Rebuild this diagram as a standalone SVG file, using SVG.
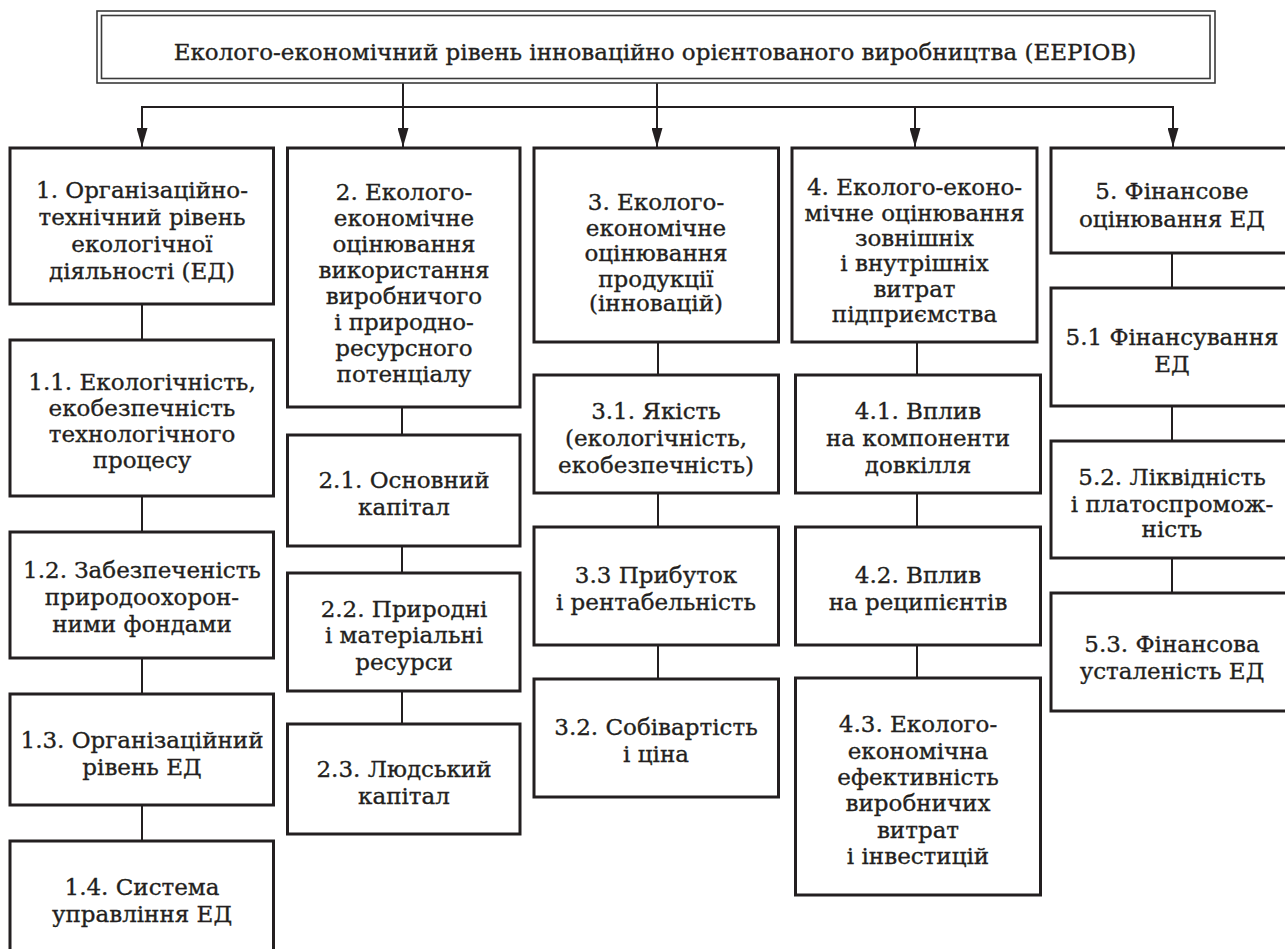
<svg xmlns="http://www.w3.org/2000/svg" width="1285" height="949" viewBox="0 0 1285 949">
<defs>
<style>
.bx{fill:#fff;stroke:#231f20;stroke-width:3}
.tb{fill:none;stroke:#3a3a3a;stroke-width:1.6}
.ln{fill:none;stroke:#231f20;stroke-width:2}
text{font-family:"DejaVu Serif","Liberation Serif",serif;font-size:23px;fill:#231f20;stroke:#231f20;stroke-width:0.35;text-anchor:middle}
</style>
<marker id="ah" markerUnits="userSpaceOnUse" markerWidth="19" markerHeight="11" refX="19" refY="5.5" orient="auto" viewBox="0 0 19 11">
<path d="M0,0 L19,5.5 L0,11 Z" fill="#231f20"/>
</marker>
</defs>
<rect width="1285" height="949" fill="#fff"/>
<g id="connectors">
<path class="ln" d="M403,83 V107"/>
<path class="ln" d="M657,83 V107"/>
<path class="ln" d="M141,107 H1174"/>
<path class="ln" d="M142,107 V147" marker-end="url(#ah)"/>
<path class="ln" d="M403,107 V147" marker-end="url(#ah)"/>
<path class="ln" d="M657,107 V147" marker-end="url(#ah)"/>
<path class="ln" d="M915,107 V147" marker-end="url(#ah)"/>
<path class="ln" d="M1173,107 V147" marker-end="url(#ah)"/>
<path class="ln" d="M142,304 V340 M142,496 V532 M142,658 V694 M142,805 V841"/>
<path class="ln" d="M402,407 V435 M402,546 V573 M402,691 V724"/>
<path class="ln" d="M658,342 V375 M658,493 V527 M658,645 V679"/>
<path class="ln" d="M917,342 V375 M917,493 V527 M917,645 V678"/>
<path class="ln" d="M1172,253 V288 M1172,406 V441 M1172,558 V593"/>
</g>
<g id="title">
<rect class="tb" x="97" y="11" width="1118" height="72"/>
<rect class="tb" x="101.5" y="15.5" width="1108.5" height="63"/>
<text x="655" y="60">Еколого-економічний рівень інноваційно орієнтованого виробництва (ЕЕРІОВ)</text>
</g>
<g id="n1">
<rect class="bx" x="10" y="148" width="263.5" height="156"/>
<text x="142" y="198">1. Організаційно-</text>
<text x="142" y="225">технічний рівень</text>
<text x="142" y="252">екологічної</text>
<text x="142" y="279">діяльності (ЕД)</text>
</g>
<g id="n1_1">
<rect class="bx" x="10" y="340" width="263.5" height="156"/>
<text x="142" y="390">1.1. Екологічність,</text>
<text x="142" y="416">екобезпечність</text>
<text x="142" y="442">технологічного</text>
<text x="142" y="468">процесу</text>
</g>
<g id="n1_2">
<rect class="bx" x="10" y="532" width="263.5" height="126"/>
<text x="142" y="578">1.2. Забезпеченість</text>
<text x="142" y="605">природоохорон-</text>
<text x="142" y="632">ними фондами</text>
</g>
<g id="n1_3">
<rect class="bx" x="10" y="694" width="263.5" height="111"/>
<text x="142" y="748">1.3. Організаційний</text>
<text x="142" y="775">рівень ЕД</text>
</g>
<g id="n1_4">
<rect class="bx" x="10" y="841" width="263.5" height="120"/>
<text x="142" y="895">1.4. Система</text>
<text x="142" y="922">управління ЕД</text>
</g>
<g id="n2">
<rect class="bx" x="287.5" y="148" width="232.5" height="259"/>
<text x="404" y="200">2. Еколого-</text>
<text x="404" y="226">економічне</text>
<text x="404" y="252">оцінювання</text>
<text x="404" y="278">використання</text>
<text x="404" y="304">виробничого</text>
<text x="404" y="329.5">і природно-</text>
<text x="404" y="355.5">ресурсного</text>
<text x="404" y="381.5">потенціалу</text>
</g>
<g id="n2_1">
<rect class="bx" x="287.5" y="435" width="232.5" height="111"/>
<text x="404" y="488">2.1. Основний</text>
<text x="404" y="515">капітал</text>
</g>
<g id="n2_2">
<rect class="bx" x="287.5" y="573" width="232.5" height="118"/>
<text x="404" y="616.5">2.2. Природні</text>
<text x="404" y="643">і матеріальні</text>
<text x="404" y="670">ресурси</text>
</g>
<g id="n2_3">
<rect class="bx" x="287.5" y="724" width="232.5" height="110"/>
<text x="404" y="777">2.3. Людський</text>
<text x="404" y="803.5">капітал</text>
</g>
<g id="n3">
<rect class="bx" x="534" y="148" width="244.5" height="194"/>
<text x="656" y="210">3. Еколого-</text>
<text x="656" y="235.5">економічне</text>
<text x="656" y="261">оцінювання</text>
<text x="656" y="286.5">продукції</text>
<text x="656" y="311">(інновацій)</text>
</g>
<g id="n3_1">
<rect class="bx" x="534" y="375" width="244.5" height="118"/>
<text x="656" y="419">3.1. Якість</text>
<text x="656" y="446">(екологічність,</text>
<text x="656" y="473">екобезпечність)</text>
</g>
<g id="n3_3">
<rect class="bx" x="534" y="527" width="244.5" height="118"/>
<text x="656" y="583">3.3 Прибуток</text>
<text x="656" y="610">і рентабельність</text>
</g>
<g id="n3_2">
<rect class="bx" x="534" y="679" width="244.5" height="118"/>
<text x="656" y="735">3.2. Собівартість</text>
<text x="656" y="762">і ціна</text>
</g>
<g id="n4">
<rect class="bx" x="792" y="148" width="245" height="194"/>
<text x="914.5" y="195">4. Еколого-еконо-</text>
<text x="914.5" y="220.5">мічне оцінювання</text>
<text x="914.5" y="246">зовнішніх</text>
<text x="914.5" y="271">і внутрішніх</text>
<text x="914.5" y="296.5">витрат</text>
<text x="914.5" y="322">підприємства</text>
</g>
<g id="n4_1">
<rect class="bx" x="795.5" y="375" width="245" height="118"/>
<text x="918" y="419">4.1. Вплив</text>
<text x="918" y="446">на компоненти</text>
<text x="918" y="473">довкілля</text>
</g>
<g id="n4_2">
<rect class="bx" x="795.5" y="527" width="245" height="118"/>
<text x="918" y="583">4.2. Вплив</text>
<text x="918" y="610">на реципієнтів</text>
</g>
<g id="n4_3">
<rect class="bx" x="795.5" y="678" width="245" height="217"/>
<text x="918" y="732">4.3. Еколого-</text>
<text x="918" y="758.5">економічна</text>
<text x="918" y="785">ефективність</text>
<text x="918" y="811">виробничих</text>
<text x="918" y="837.5">витрат</text>
<text x="918" y="864">і інвестицій</text>
</g>
<g id="n5">
<rect class="bx" x="1051" y="148" width="244" height="105"/>
<text x="1172" y="198.5">5. Фінансове</text>
<text x="1172" y="226.5">оцінювання ЕД</text>
</g>
<g id="n5_1">
<rect class="bx" x="1051" y="288" width="244" height="118"/>
<text x="1172" y="345">5.1 Фінансування</text>
<text x="1172" y="372">ЕД</text>
</g>
<g id="n5_2">
<rect class="bx" x="1051" y="441" width="244" height="117"/>
<text x="1172" y="485">5.2. Ліквідність</text>
<text x="1172" y="511.5">і платоспромож-</text>
<text x="1172" y="537">ність</text>
</g>
<g id="n5_3">
<rect class="bx" x="1051" y="593" width="244" height="118"/>
<text x="1172" y="652">5.3. Фінансова</text>
<text x="1172" y="679">усталеність ЕД</text>
</g>
</svg>
